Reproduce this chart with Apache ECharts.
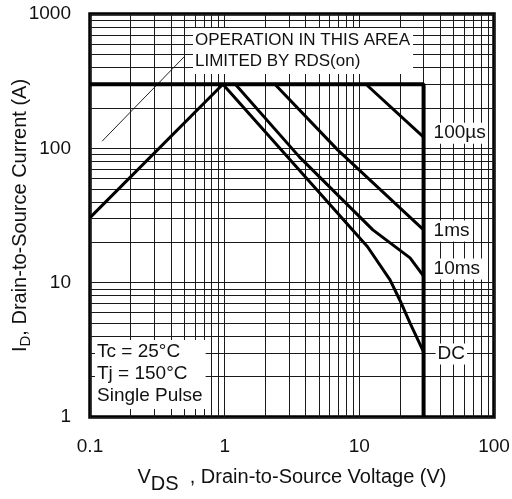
<!DOCTYPE html>
<html>
<head>
<meta charset="utf-8">
<script src="https://cdn.jsdelivr.net/npm/echarts@6/dist/echarts.min.js"></script>
<style>
  html, body { margin: 0; padding: 0; background: #fff; }
  #chart { width: 512px; height: 499px; }
</style>
</head>
<body>
<div id="chart"></div>
<script>
// axis ranges and gridline positions (log decades x 1..9)
const xDecades = [0.1, 1, 10];
const yDecades = [1, 10, 100];
const minorSteps = [1, 2, 3, 4, 5, 6, 7, 8, 9];

// safe operating area [VDS (V), ID (A)]
const limitEdge = [[0.1, 300], [30, 300], [30, 1]];
const rdsLimit = [[0.1, 30.5], [0.97, 300]];
const pulse100us = [[11.2, 300], [30, 121]];
const pulse1ms = [[2.36, 300], [6.93, 97], [30, 24.7]];
const pulse10ms = [[1.2, 300], [3.6, 86], [12.6, 24.7], [23.8, 15.3], [30, 11.2]];
const dcLine = [[0.97, 300], [11.5, 18.5], [16.9, 10.5], [20, 7.4], [23.8, 5.0], [30, 3.05]];
const pointer = [[0.123, 113], [0.5, 480]];

const FONT = '"Liberation Sans", Arial, Helvetica, sans-serif';
const INK = '#111';

const gridX = [];
xDecades.forEach(d => minorSteps.forEach(m => gridX.push(+(d * m).toPrecision(3))));
gridX.push(100);
const gridY = [];
yDecades.forEach(d => minorSteps.forEach(m => gridY.push(+(d * m).toPrecision(3))));
gridY.push(1000);

const chart = echarts.init(document.getElementById('chart'), null, { renderer: 'canvas' });

function curve(name, data, offset) {
  return {
    name: name,
    type: 'line',
    data: data,
    symbol: 'none',
    z: 5,
    lineStyle: { color: '#000', width: 3 },
    endLabel: {
      show: name !== '',
      formatter: name,
      distance: 8,
      offset: offset,
      fontFamily: FONT,
      fontSize: 19,
      color: INK,
      backgroundColor: '#fff',
      padding: [1, 2]
    }
  };
}

const option = {
  animation: false,
  grid: {
    left: 90, right: 18, top: 14, bottom: 82,
    containLabel: false,
    outerBoundsMode: 'none',
    show: true,
    borderColor: '#000',
    borderWidth: 3.5,
    backgroundColor: '#fff'
  },
  xAxis: {
    type: 'log',
    logBase: 10,
    min: 0.1,
    max: 100,
    axisLine: { show: false },
    axisTick: { show: false },
    splitLine: { show: false },
    axisLabel: { fontFamily: FONT, fontSize: 19, color: INK, margin: 20, formatter: v => String(v) },
    name: '{m|V}{s|DS}{m|  , Drain-to-Source Voltage (V)}',
    nameLocation: 'middle',
    nameGap: 43,
    nameTextStyle: {
      fontFamily: FONT, fontSize: 20, color: INK,
      rich: {
        m: { fontFamily: FONT, fontSize: 20, color: INK },
        s: { fontFamily: FONT, fontSize: 20, color: INK, padding: [14, 0, 0, 0] }
      }
    }
  },
  yAxis: {
    type: 'log',
    logBase: 10,
    min: 1,
    max: 1000,
    axisLine: { show: false },
    axisTick: { show: false },
    splitLine: { show: false },
    axisLabel: { fontFamily: FONT, fontSize: 19, color: INK, margin: 19, formatter: v => String(v) },
    name: '{m|I}{s|D}{m|, Drain-to-Source Current (A)}',
    nameLocation: 'middle',
    nameMoveOverlap: false,
    nameGap: 57,
    nameRotate: 90,
    nameTextStyle: {
      fontFamily: FONT, fontSize: 20, color: INK,
      rich: {
        m: { fontFamily: FONT, fontSize: 20, color: INK },
        s: { fontFamily: FONT, fontSize: 15, color: INK, padding: [10, 0, 0, 0] }
      }
    }
  },
  series: [
    {
      name: 'grid',
      type: 'line',
      data: [[0.1, 1]],
      symbol: 'none',
      silent: true,
      z: 1,
      lineStyle: { width: 0 },
      markLine: {
        silent: true,
        symbol: ['none', 'none'],
        label: { show: false },
        lineStyle: { color: '#1a1a1a', width: 1, type: 'solid' },
        emphasis: { disabled: true },
        data: gridX.map(v => ({ xAxis: v })).concat(gridY.map(v => ({ yAxis: v })))
      }
    },
    {
      name: 'limit',
      type: 'line',
      data: limitEdge,
      symbol: 'none',
      z: 6,
      lineStyle: { color: '#000', width: 4 }
    },
    curve('', rdsLimit, [0, 0]),
    curve('100\u00b5s', pulse100us, [0, -4]),
    curve('1ms', pulse1ms, [0, 1]),
    curve('10ms', pulse10ms, [0, -7]),
    curve('DC', dcLine, [4, 2]),
    {
      name: 'pointer',
      type: 'line',
      data: pointer,
      symbol: 'none',
      z: 4,
      lineStyle: { color: '#222', width: 1 }
    }
  ],
  graphic: [
    {
      type: 'text',
      left: 193,
      top: 28,
      z: 100,
      style: {
        text: 'OPERATION IN THIS AREA\nLIMITED BY RDS(on)',
        fontFamily: FONT,
        fontSize: 17,
        lineHeight: 21,
        fill: INK,
        backgroundColor: '#fff',
        padding: [2, 3, 2, 2]
      }
    },
    {
      type: 'text',
      left: 95,
      top: 340,
      z: 100,
      style: {
        text: 'Tc = 25\u00b0C\nTj = 150\u00b0C\nSingle Pulse',
        fontFamily: FONT,
        fontSize: 19,
        lineHeight: 22,
        fill: INK,
        backgroundColor: '#fff',
        padding: [1, 3, 2, 2]
      }
    }
  ]
};

chart.setOption(option);
</script>
</body>
</html>
